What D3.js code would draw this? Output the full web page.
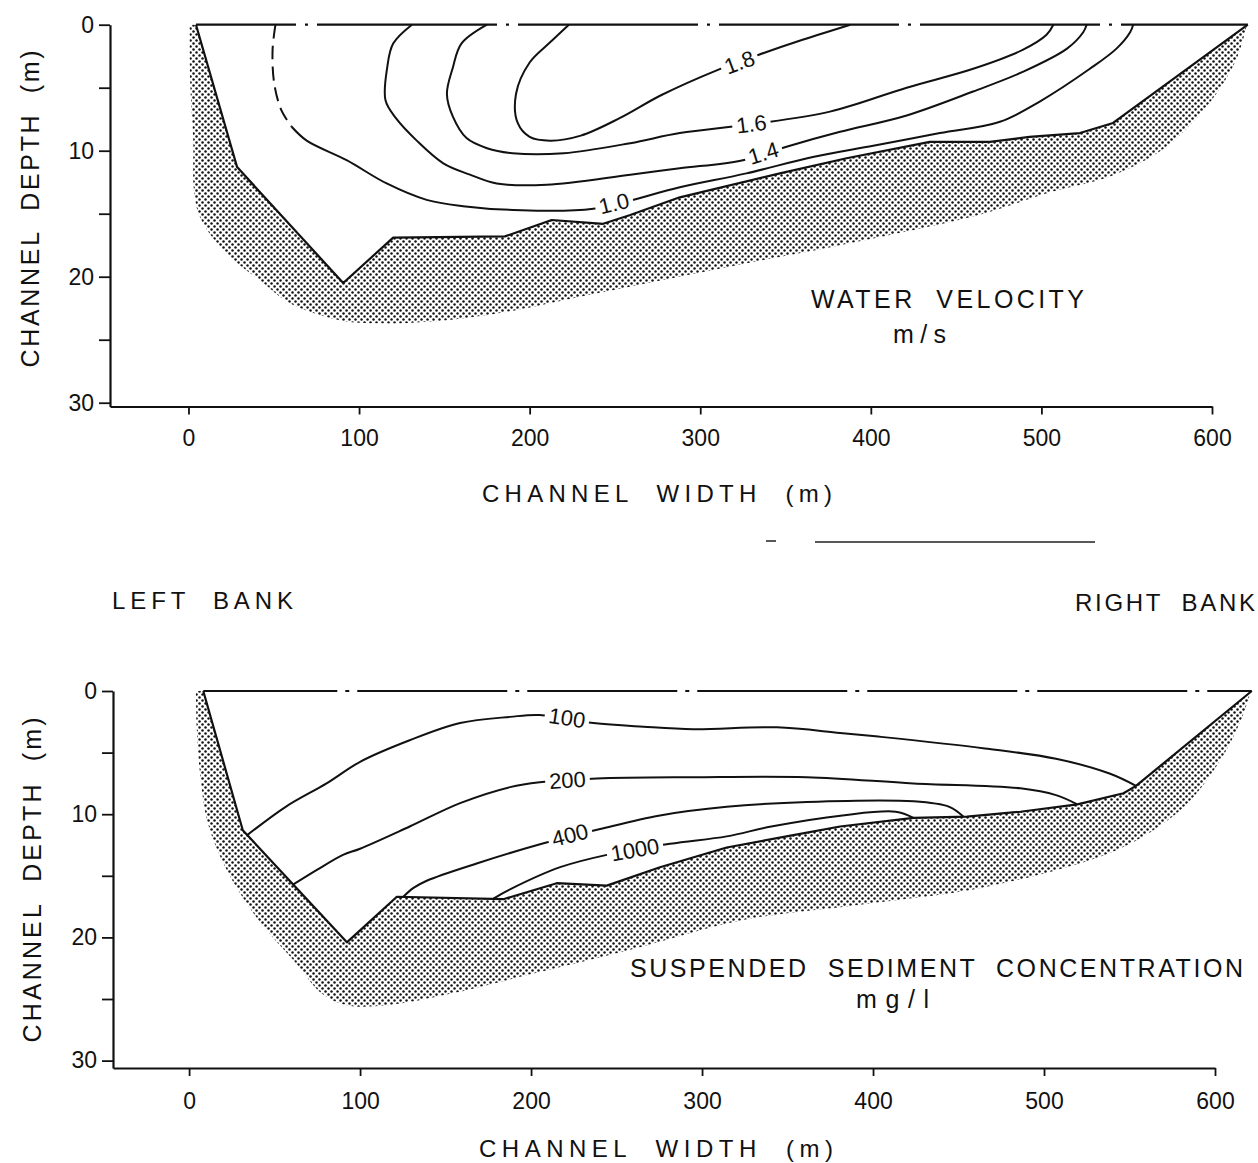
<!DOCTYPE html>
<html>
<head>
<meta charset="utf-8">
<title>Channel cross-section: velocity and suspended sediment</title>
<script src="https://cdnjs.cloudflare.com/ajax/libs/d3/7.8.5/d3.min.js"></script>
<style>
  body { margin: 0; background: #fff; }
  svg { display: block; font-family: "Liberation Sans", Arial, sans-serif; }
  text { fill: #111; white-space: pre; }
</style>
</head>
<body>
<svg id="chart"></svg>
<script>
const width = 1258;
const height = 1163;

// shared axis ticks
const widthTicks = [0, 100, 200, 300, 400, 500, 600];
const depthTicks = [0, 5, 10, 15, 20, 25, 30];

// ---- water velocity panel, points are [width m, depth m] ----
const velBed = [[4.4, 0], [28.5, 11.3], [90.7, 20.5], [120, 16.9], [185.5, 16.8], [212.9, 15.5],
  [243.1, 15.8], [259, 15.1], [288, 13.7], [346.7, 11.8], [385.8, 10.6], [434.6, 9.3],
  [469.8, 9.3], [493, 8.9], [522.6, 8.6], [542, 7.8], [621, 0]];
const velSediment = [[0.7, 0], [1, 4.5], [2.8, 9.2], [3.2, 13.1], [6.7, 15.25], [20.4, 17.9],
  [43.8, 20.5], [59.5, 22.1], [88.8, 23.45], [112.3, 23.7], [151.3, 23.45], [190.4, 22.7],
  [229.5, 21.6], [258.8, 20.8], [325, 19.0], [400, 17.0], [466, 15.0], [505, 13.3],
  [541, 12.0], [570, 10.0], [587, 8.0], [605, 5.0], [615, 2.5], [620.5, 0]];
const vel18 = [[223, 0], [212, 1.4], [200, 3.0], [192, 5.5], [193, 7.8], [200, 8.9], [212, 9.2],
  [230, 8.8], [253, 7.4], [277, 5.6], [310, 3.6], [334, 2.4], [360, 1.2], [388, 0]];
const vel16 = [[175, 0], [160, 1.5], [155, 3.4], [151.5, 5.5], [155, 7.3], [163, 9.0], [175, 9.8],
  [190, 10.2], [220, 10.2], [259, 9.4], [288, 8.6], [330, 7.9], [376, 6.9], [421, 5.0],
  [460, 3.5], [489, 2.0], [503, 0.8], [507, 0]];
const vel14 = [[131, 0], [120, 1.5], [116.5, 3.4], [115.5, 6.0], [121.5, 7.4], [133.8, 9.2],
  [149.4, 11.0], [165, 11.9], [180.7, 12.6], [210, 12.7], [259, 11.9], [288, 11.4],
  [325, 10.75], [352.6, 9.6], [382, 8.5], [421, 7.2], [460, 5.3], [489, 3.75], [515, 1.9],
  [524.5, 0.6], [526.5, 0]];
const vel10Dashed = [[51, 0], [49.3, 2.0], [50.3, 4.7], [54.5, 6.8], [60.5, 8.1]];
const vel10 = [[60.5, 8.1], [69.3, 9.2], [92.7, 10.75], [116.2, 12.6], [139.6, 13.9], [161, 14.4],
  [190.4, 14.7], [237.3, 14.6], [288, 12.9], [327, 11.8], [366, 10.5], [401.4, 9.6],
  [440.5, 8.6], [475.7, 7.7], [499, 6.1], [528.4, 3.5], [544, 1.9], [552, 0.6], [553.8, 0]];
const velLabels = ["1.8", "1.6", "1.4", "1.0"];
const velLabelX = [323, 330, 337, 249.5];
const velLabelD = [3.0, 7.9, 10.2, 14.2];

// ---- suspended sediment panel ----
const sedBed = [[8.3, 0], [31.4, 11.3], [92.3, 20.4], [121.5, 16.7], [183.8, 16.9], [215, 15.6],
  [244.3, 15.8], [275.4, 14.3], [314.4, 12.7], [353.4, 11.7], [380.7, 11.0], [423.7, 10.3],
  [455, 10.2], [486.2, 9.8], [519.5, 9.2], [546.5, 8.3], [553.8, 7.7], [621.5, 0]];
const sedSediment = [[4, 0], [4.5, 3], [6.4, 6.7], [11.1, 10.8], [23, 14.8], [42.2, 18.9],
  [61.3, 21.9], [78, 24.6], [92.3, 25.5], [116.2, 25.5], [152, 24.6], [199.6, 23.0],
  [258, 21.0], [323.4, 18.6], [394.7, 17.3], [466, 15.9], [537.4, 13.2], [565, 11.2],
  [585.4, 8.9], [605, 5.2], [616, 2.1], [621, 0]];
const sed100 = [[34, 11.7], [56.5, 9.4], [80.4, 7.5], [100, 5.75], [129, 4.0], [158.5, 2.6],
  [187.7, 2.1], [205, 1.95], [236.4, 2.6], [265.7, 2.9], [295, 3.1], [343.7, 2.95],
  [380.7, 3.4], [403, 3.7], [465.4, 4.66], [507, 5.5], [538.3, 6.7], [553.8, 7.7]];
const sed200 = [[61, 15.7], [75, 14.5], [90, 13.3], [100, 12.8], [129, 11.0], [158.5, 9.1],
  [187.7, 7.8], [205, 7.4], [238.4, 7.1], [295, 7.0], [361.3, 7.0], [423.7, 7.5],
  [486.2, 7.9], [507, 8.45], [519.5, 9.2]];
const sed400 = [[125.3, 16.7], [131, 16.0], [139, 15.4], [168.2, 14.0], [206.3, 12.4],
  [240.4, 11.2], [275.4, 10.1], [314.4, 9.4], [361.3, 9.0], [423.7, 8.95], [444.6, 9.4],
  [452.9, 10.2]];
const sed1000 = [[178, 16.85], [187.7, 16.1], [217, 14.3], [244.3, 13.3], [281.3, 12.4],
  [314.4, 11.8], [340.5, 11.0], [382.1, 10.1], [413.3, 9.8], [423.7, 10.3]];
const sedLabels = ["100", "200", "400", "1000"];
const sedLabelX = [221, 221.3, 222.8, 260.8];
const sedLabelD = [2.2, 7.25, 11.7, 12.9];

const svg = d3.select("#chart").attr("width", width).attr("height", height);

// stipple used for the bed sediment
const pattern = svg.append("defs").append("pattern")
  .attr("id", "stipple")
  .attr("width", 6)
  .attr("height", 6)
  .attr("patternUnits", "userSpaceOnUse");
pattern.append("circle").attr("cx", 1.5).attr("cy", 1.5).attr("r", 1.25).attr("fill", "#111");
pattern.append("circle").attr("cx", 4.5).attr("cy", 4.5).attr("r", 1.25).attr("fill", "#111");

let drawPanel = (p) => {
  const g = svg.append("g");
  const x = d3.scaleLinear().domain([p.xMin, 600]).range([p.left, p.right]);
  const y = d3.scaleLinear().domain([0, p.axisDepth]).range([p.top, p.bottom]);

  const straight = d3.line().x((d) => x(d[0])).y((d) => y(d[1]));
  const smooth = d3.line().x((d) => x(d[0])).y((d) => y(d[1])).curve(d3.curveCatmullRom.alpha(0.5));

  // stippled sediment between bed and outer edge
  const outerPath = smooth(p.sediment.slice().reverse());
  g.append("path")
    .attr("d", straight(p.bed) + "L" + outerPath.slice(1) + "Z")
    .attr("fill", "url(#stipple)")
    .attr("stroke", "none");

  // water surface, dash-dot
  const surface = [[p.bed[0][0], 0], [p.bed[p.bed.length - 1][0], 0]];
  g.append("path")
    .attr("d", straight(surface))
    .attr("fill", "none")
    .attr("stroke", "#111")
    .attr("stroke-width", 2.2)
    .attr("stroke-dasharray", p.surfaceDash)
    .attr("stroke-dashoffset", p.surfaceOffset);

  // channel bed
  g.append("path")
    .attr("d", straight(p.bed))
    .attr("fill", "none")
    .attr("stroke", "#111")
    .attr("stroke-width", 2.2)
    .attr("stroke-linejoin", "round");

  // contours
  p.contours.forEach((c) => {
    g.append("path")
      .attr("d", smooth(c.points))
      .attr("fill", "none")
      .attr("stroke", "#111")
      .attr("stroke-width", 2)
      .attr("stroke-dasharray", c.dash || null);
  });

  // contour labels, turned along the nearest segment of their line
  p.labels.forEach((lab, i) => {
    const pts = p.labelLines[i];
    const lx = x(p.labelX[i]);
    const ly = y(p.labelD[i]);
    let best = 0;
    let bestDist = Infinity;
    for (let k = 0; k < pts.length - 1; k++) {
      const mx = (x(pts[k][0]) + x(pts[k + 1][0])) / 2;
      const my = (y(pts[k][1]) + y(pts[k + 1][1])) / 2;
      const dist = Math.hypot(mx - lx, my - ly);
      if (dist < bestDist) {
        bestDist = dist;
        best = k;
      }
    }
    const a = pts[best];
    const b = pts[best + 1];
    let angle = Math.atan2(y(b[1]) - y(a[1]), x(b[0]) - x(a[0])) * 180 / Math.PI;
    if (angle > 90) angle -= 180;
    if (angle < -90) angle += 180;

    const lg = g.append("g")
      .attr("transform", "translate(" + lx + "," + ly + ") rotate(" + angle + ")");
    const t = lg.append("text")
      .attr("text-anchor", "middle")
      .attr("dominant-baseline", "central")
      .attr("font-size", 22)
      .text(lab);
    // white box breaks the contour line under the label
    const bb = t.node().getBBox();
    lg.insert("rect", "text")
      .attr("x", bb.x - 4)
      .attr("y", bb.y + 2)
      .attr("width", bb.width + 8)
      .attr("height", bb.height - 4)
      .attr("fill", "#fff");
  });

  // axes
  const xAxis = d3.axisBottom(x).tickValues(widthTicks).tickSize(8).tickSizeOuter(0).tickPadding(p.xTickPad);
  const yAxis = d3.axisLeft(y)
    .tickValues(depthTicks)
    .tickSize(11)
    .tickSizeOuter(0)
    .tickPadding(5)
    .tickFormat((d) => (d % 10 === 0 ? d : ""));

  const gx = g.append("g")
    .attr("transform", "translate(0, " + y(p.axisDepth) + ")")
    .call(xAxis);
  const gy = g.append("g")
    .attr("transform", "translate(" + p.left + ", 0)")
    .call(yAxis);

  [gx, gy].forEach((ax) => {
    ax.attr("font-family", null).attr("font-size", null);
    ax.select(".domain").attr("stroke", "#111").attr("stroke-width", 2.2);
    ax.selectAll(".tick line").attr("stroke", "#111").attr("stroke-width", 1.8);
    ax.selectAll(".tick text").attr("font-size", 23).attr("fill", "#111");
  });

  // axis titles
  g.append("text")
    .attr("x", p.xTitleX)
    .attr("y", p.xTitleY)
    .attr("font-size", 24)
    .attr("textLength", p.xTitleLen)
    .attr("lengthAdjust", "spacing")
    .text("CHANNEL  WIDTH  (m)");

  g.append("text")
    .attr("transform", "translate(" + p.yTitleX + "," + p.yTitleY + ") rotate(-90)")
    .attr("text-anchor", "middle")
    .attr("font-size", 25)
    .attr("textLength", p.yTitleLen)
    .attr("lengthAdjust", "spacing")
    .text("CHANNEL  DEPTH  (m)");

  // panel caption
  p.caption.forEach((c) => {
    g.append("text")
      .attr("x", c.x)
      .attr("y", c.y)
      .attr("font-size", 25)
      .attr("textLength", c.len)
      .attr("lengthAdjust", "spacing")
      .text(c.text);
  });
};

drawPanel({
  xMin: -46, left: 110, right: 1212,
  axisDepth: 30.3, top: 24.7, bottom: 406.5,
  bed: velBed,
  sediment: velSediment,
  surfaceDash: "180,9,3,9",
  surfaceOffset: 80,
  contours: [
    { points: vel18 },
    { points: vel16 },
    { points: vel14 },
    { points: vel10Dashed, dash: "14,7" },
    { points: vel10 },
  ],
  labels: velLabels,
  labelX: velLabelX,
  labelD: velLabelD,
  labelLines: [vel18, vel16, vel14, vel10],
  xTickPad: 15,
  xTitleX: 482, xTitleY: 502, xTitleLen: 350,
  yTitleX: 39, yTitleY: 209, yTitleLen: 317,
  caption: [
    { text: "WATER  VELOCITY", x: 811, y: 308, len: 273 },
    { text: "m/s", x: 893, y: 343, len: 53 },
  ],
});

drawPanel({
  xMin: -44.5, left: 113, right: 1215,
  axisDepth: 30.6, top: 691, bottom: 1068,
  bed: sedBed,
  sediment: sedSediment,
  surfaceDash: "150,8,4,8",
  surfaceOffset: 16,
  contours: [
    { points: sed100 },
    { points: sed200 },
    { points: sed400 },
    { points: sed1000 },
  ],
  labels: sedLabels,
  labelX: sedLabelX,
  labelD: sedLabelD,
  labelLines: [sed100, sed200, sed400, sed1000],
  xTickPad: 17,
  xTitleX: 479, xTitleY: 1157, xTitleLen: 354,
  yTitleX: 41, yTitleY: 880, yTitleLen: 325,
  caption: [
    { text: "SUSPENDED  SEDIMENT  CONCENTRATION", x: 630, y: 977, len: 613 },
    { text: "mg/l", x: 856, y: 1008, len: 73 },
  ],
});

// bank names between the panels
svg.append("text").attr("x", 112).attr("y", 609).attr("font-size", 24)
  .attr("textLength", 181).attr("lengthAdjust", "spacing").text("LEFT  BANK");
svg.append("text").attr("x", 1075).attr("y", 611).attr("font-size", 24)
  .attr("textLength", 180).attr("lengthAdjust", "spacing").text("RIGHT  BANK");

// faint stray rule from the scanned page
svg.append("path")
  .attr("d", "M766,541h10M815,542H1095")
  .attr("stroke", "#222")
  .attr("stroke-width", 1.5)
  .attr("fill", "none");
</script>
</body>
</html>
